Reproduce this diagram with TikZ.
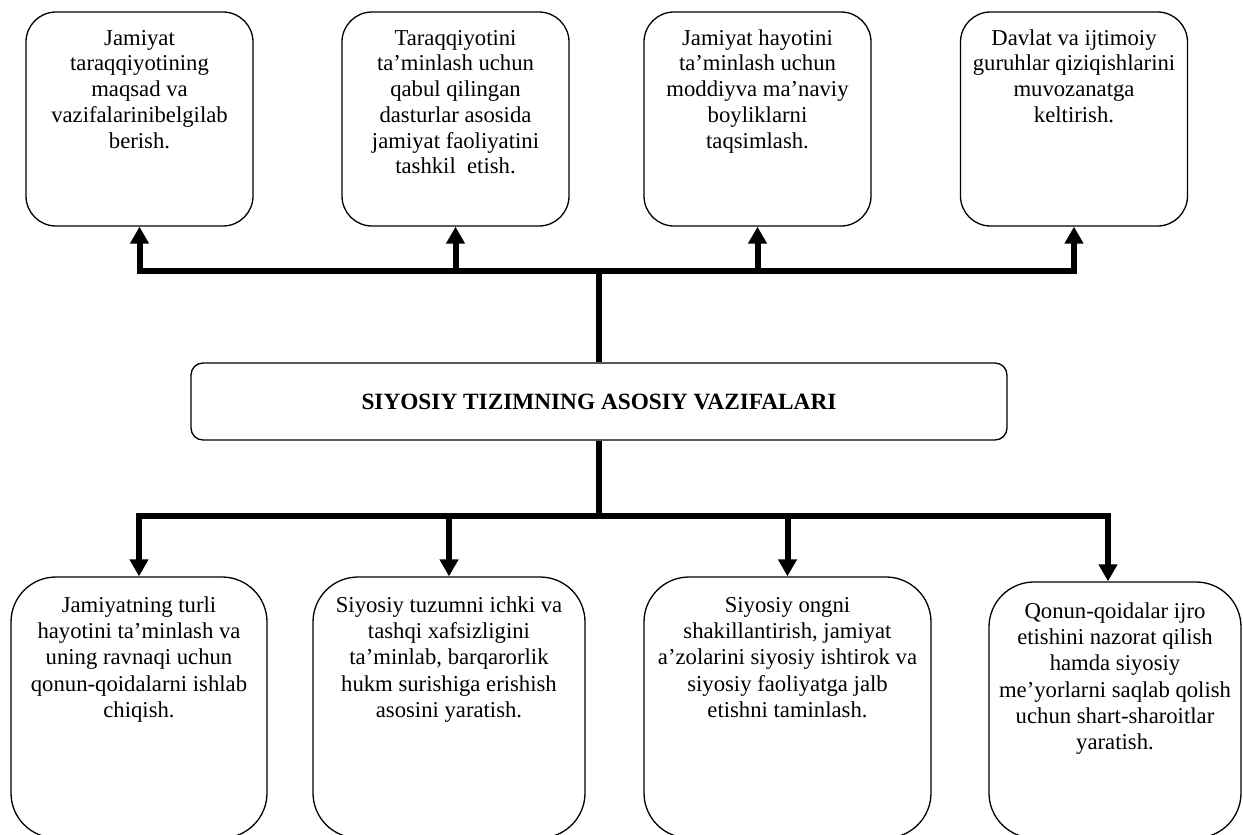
\documentclass[tikz,border=0pt]{standalone}
\usepackage{fontspec}
\setmainfont{Liberation Serif}
\usetikzlibrary{arrows.meta}
\begin{document}
\begin{tikzpicture}[x=1pt,y=-1pt,
  box/.style={draw, line width=1.3pt, rectangle, inner sep=0pt},
  topbox/.style={box, rounded corners=30pt, minimum width=227pt, minimum height=214pt},
  botbox/.style={box, rounded corners=45pt, minimum height=261pt},
  midbox/.style={box, rounded corners=12pt, minimum width=816pt, minimum height=77pt,
    font=\fontsize{23.3}{26}\selectfont\bfseries},
  toptext/.style={anchor=north, inner sep=0pt, align=center, font=\fontsize{22.7}{25.7}\selectfont},
  bottext/.style={anchor=north, inner sep=0pt, align=center, font=\fontsize{22.7}{26.3}\selectfont},
  wire/.style={line width=6pt},
  arr/.style={-{Triangle[width=18pt,length=17pt]}}
]
\useasboundingbox (0,0) rectangle (1243,835);

% centre box
\node[midbox] (m) at (599,401.5) {SIYOSIY TIZIMNING ASOSIY VAZIFALARI};

% top boxes
\node[topbox] (t1) at (139.5,119) {};
\node[topbox] (t2) at (455.5,119) {};
\node[topbox] (t3) at (757.5,119) {};
\node[topbox] (t4) at (1074,119) {};

\node[toptext] (t1x) at (139.5,27) {\rule{0pt}{18pt}Jamiyat\\ taraqqiyotining\\ maqsad va\\ vazifalarinibelgilab\\ berish.};
\node[toptext] (t2x) at (455.5,27) {\rule{0pt}{18pt}Taraqqiyotini\\ ta’minlash uchun\\ qabul qilingan\\ dasturlar asosida\\ jamiyat faoliyatini\\ tashkil\ \ etish.};
\node[toptext] (t3x) at (757.5,27) {\rule{0pt}{18pt}Jamiyat hayotini\\ ta’minlash uchun\\ moddiyva ma’naviy\\ boyliklarni\\ taqsimlash.};
\node[toptext] (t4x) at (1074,27) {\rule{0pt}{18pt}Davlat va ijtimoiy\\ guruhlar qiziqishlarini\\ muvozanatga\\ keltirish.};

% bottom boxes
\node[botbox, minimum width=256pt] (b1) at (139,707.5) {};
\node[botbox, minimum width=272pt] (b2) at (449,707.5) {};
\node[botbox, minimum width=287pt] (b3) at (787.5,707.5) {};
\node[botbox, minimum width=252pt, minimum height=256pt] (b4) at (1115,710) {};

\node[bottext] (b1x) at (139,594) {\rule{0pt}{18pt}Jamiyatning turli\\ hayotini ta’minlash va\\ uning ravnaqi uchun\\ qonun-qoidalarni ishlab\\ chiqish.};
\node[bottext] (b2x) at (449,594) {\rule{0pt}{18pt}Siyosiy tuzumni ichki va\\ tashqi xafsizligini\\ ta’minlab, barqarorlik\\ hukm surishiga erishish\\ asosini yaratish.};
\node[bottext] (b3x) at (787.5,594) {\rule{0pt}{18pt}Siyosiy ongni\\ shakillantirish, jamiyat\\ a’zolarini siyosiy ishtirok va\\ siyosiy faoliyatga jalb\\ etishni taminlash.};
\node[bottext] (b4x) at (1115,600) {\rule{0pt}{18pt}Qonun-qoidalar ijro\\ etishini nazorat qilish\\ hamda siyosiy\\ me’yorlarni saqlab qolish\\ uchun shart-sharoitlar\\ yaratish.};

% junctions
\coordinate (tj) at (599,271);
\coordinate (bj) at (599,516);

% connectors up
\draw[wire] (m.north) -- (tj);
\draw[wire,arr] (tj) -| (t1.south);
\draw[wire,arr] (tj) -| (t2.south);
\draw[wire,arr] (tj) -| (t3.south);
\draw[wire,arr] (tj) -| (t4.south);

% connectors down
\draw[wire] (m.south) -- (bj);
\draw[wire,arr] (bj) -| (b1.north);
\draw[wire,arr] (bj) -| (b2.north);
\draw[wire,arr] (bj) -| (b3.north);
\draw[wire,arr] (bj) -| ([xshift=-7pt]b4.north);
\end{tikzpicture}
\end{document}
